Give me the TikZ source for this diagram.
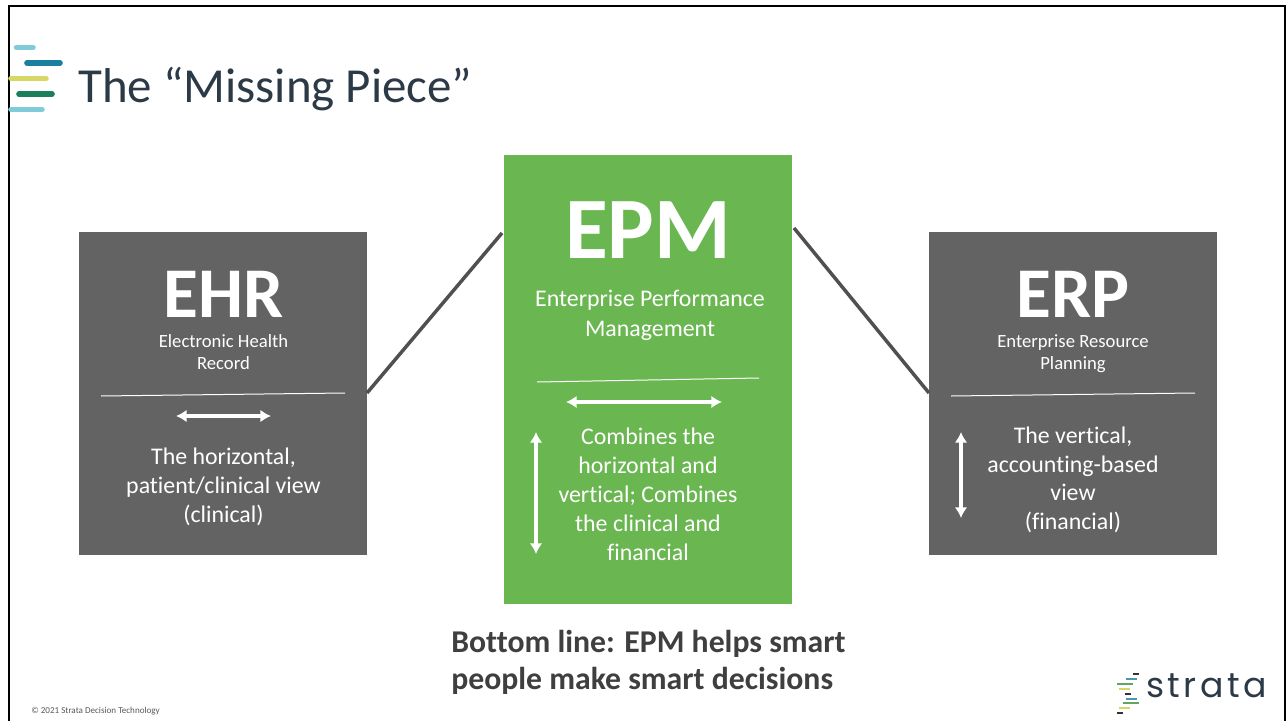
\documentclass[tikz,border=0pt]{standalone}
\usepackage{fontspec}
\setmainfont{Carlito}[Ligatures=NoCommon]
\newfontfamily\logofont{Poppins}
\usetikzlibrary{arrows.meta}
\definecolor{grayb}{HTML}{636363}
\definecolor{greenb}{HTML}{6AB651}
\definecolor{linkc}{HTML}{505050}
\definecolor{titlec}{HTML}{2C3A47}
\definecolor{cya}{HTML}{7FCBDA}
\definecolor{blu}{HTML}{1C7FA0}
\definecolor{yel}{HTML}{D6D866}
\definecolor{grn}{HTML}{1B7F5C}
\definecolor{botc}{HTML}{3F3F3F}
\tikzset{x=0.75pt,y=-0.75pt,
 box/.style={inner sep=0pt,outer sep=0pt},
 txt/.style={text=white,align=center,inner sep=0pt},
 rule/.style={white,line width=0.75pt},
 dbl/.style={white,line width=2.3pt,{Latex[length=8pt,width=9.5pt]}-{Latex[length=8pt,width=9.5pt]}},
 link/.style={linkc,line width=2.6pt},
 bar/.style={line width=4.2pt,line cap=round},
 sbar/.style={line width=1.5pt},
}
\begin{document}
\begin{tikzpicture}
\useasboundingbox (0,0) rectangle (1286,721);
\fill[white] (0,0) rectangle (1286,721);
\draw[black,line width=2.2pt] (9,721) -- (9,6) -- (1285,6) -- (1285,721);
% logo
\draw[bar,cya] (16.5,47.5) -- (33,47.5);
\draw[bar,blu] (27,63) -- (60,63);
\draw[bar,yel] (11,78.5) -- (46,78.5);
\draw[bar,grn] (19,94) -- (52,94);
\draw[bar,cya] (11,109.5) -- (42,109.5);
\node[anchor=base west,inner sep=0pt,text=titlec,font=\fontsize{36.7}{36.7}\selectfont] (title) at (78,102) {The “Missing Piece”};
% boxes
\node[box,fill=grayb,minimum width=288*0.75pt,minimum height=323*0.75pt,anchor=north west] (ehr) at (79,232) {};
\node[box,fill=greenb,minimum width=288*0.75pt,minimum height=449*0.75pt,anchor=north west] (epm) at (504,155) {};
\node[box,fill=grayb,minimum width=288*0.75pt,minimum height=323*0.75pt,anchor=north west] (erp) at (929,232) {};
% connectors
\coordinate (l1) at (367,393); \coordinate (l2) at (502,233);
\coordinate (r1) at (794,228); \coordinate (r2) at (929,393);
\draw[link] (l1) -- (l2);
\draw[link] (r1) -- (r2);
% EHR
\node[txt,font=\bfseries\fontsize{53.5}{53.5}\selectfont,anchor=base] (ehrt) at (223.5,317) {EHR};
\node[txt,font=\fontsize{14}{16.5}\selectfont,anchor=north] (ehrs) at (223.5,334) {Electronic Health\\Record};
\coordinate (e1) at (101,396); \coordinate (e2) at (345,393);
\draw[rule] (e1) -- (e2);
\coordinate (ea) at (176,416); \coordinate (eb) at (271,416);
\draw[dbl] (ea) -- (eb);
\node[txt,font=\fontsize{17.9}{21.6}\selectfont,anchor=north] (ehrd) at (223.5,448) {The horizontal,\\patient/clinical view\\(clinical)};
% EPM
\node[txt,font=\bfseries\fontsize{65.7}{65.7}\selectfont,anchor=base] (epmt) at (648,258) {EPM};
\node[txt,font=\fontsize{17.9}{22.2}\selectfont,anchor=north] (epms) at (650,290) {Enterprise Performance\\Management};
\coordinate (m1) at (537,382); \coordinate (m2) at (759,378);
\draw[rule] (m1) -- (m2);
\coordinate (ma) at (566,402); \coordinate (mb) at (722,402);
\draw[dbl] (ma) -- (mb);
\coordinate (mc) at (536,432); \coordinate (md) at (536,554);
\draw[dbl] (mc) -- (md);
\node[txt,font=\fontsize{17.9}{21.6}\selectfont,anchor=north] (epmd) at (648,428) {Combines the\\horizontal and\\vertical; Combines\\the clinical and\\financial};
% ERP
\node[txt,font=\bfseries\fontsize{53.5}{53.5}\selectfont,anchor=base] (erpt) at (1073,317) {ERP};
\node[txt,font=\fontsize{14}{16.5}\selectfont,anchor=north] (erps) at (1073,334) {Enterprise Resource\\Planning};
\coordinate (p1) at (951,396); \coordinate (p2) at (1195,393);
\draw[rule] (p1) -- (p2);
\coordinate (pa) at (961,432); \coordinate (pb) at (961,518);
\draw[dbl] (pa) -- (pb);
\node[txt,font=\fontsize{17.9}{21.6}\selectfont,anchor=north] (erpd) at (1073,426.5) {The vertical,\\accounting-based\\view\\(financial)};
% bottom line
\node[anchor=north west,align=left,inner sep=0pt,text=botc,font=\bfseries\fontsize{23.8}{28}\selectfont] (bot) at (451,630) {Bottom line: EPM helps smart\\people make smart decisions};
\node[anchor=base west,inner sep=0pt,text=black!65,font=\fontsize{6.8}{6.8}\selectfont] (copy) at (31,713) {© 2021 Strata Decision Technology};
% strata logo
\draw[sbar,black!80] (1133,674) -- (1139,674);
\draw[sbar,blu!80] (1126,679) -- (1137,679);
\draw[sbar,grn!60!yel] (1117,684) -- (1133,684);
\draw[sbar,yel] (1119,689) -- (1130,689);
\draw[sbar,black!80] (1125,694) -- (1131,694);
\draw[sbar,blu!80] (1126,699) -- (1137,699);
\draw[sbar,grn!60!yel] (1123,703) -- (1139,703);
\draw[sbar,yel] (1119,708) -- (1130,708);
\draw[sbar,black!80] (1117,712.5) -- (1123,712.5);
\node[anchor=base west,inner sep=0pt,text=titlec,font=\logofont\fontsize{26}{26}\selectfont] (strata) at (1146,697) {\addfontfeature{LetterSpace=10}strata};
\end{tikzpicture}
\end{document}
